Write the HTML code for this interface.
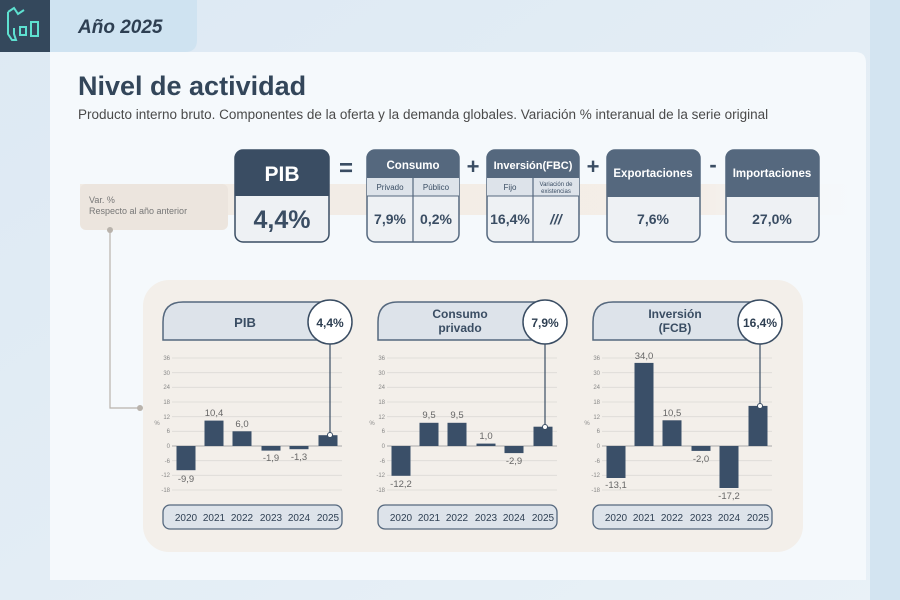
<!DOCTYPE html>
<html><head><meta charset="utf-8"><style>
html,body{margin:0;padding:0;width:900px;height:600px;overflow:hidden;background:#e4eef6;}
svg{display:block;font-family:"Liberation Sans",sans-serif;}
</style></head><body>
<svg width="900" height="600" viewBox="0 0 900 600" xmlns="http://www.w3.org/2000/svg">
<defs>
<linearGradient id="bg" x1="0" y1="0" x2="1" y2="1"><stop offset="0" stop-color="#dde9f3"/><stop offset="1" stop-color="#e9f1f7"/></linearGradient>
<linearGradient id="band" x1="0" x2="1"><stop offset="0" stop-color="#f1ebe4"/><stop offset="0.8" stop-color="#f4eee8"/><stop offset="1" stop-color="#f4f6f8" stop-opacity="0"/></linearGradient>
</defs>
<rect width="900" height="600" fill="url(#bg)"/>
<rect x="870" y="0" width="30" height="600" fill="#d3e4f1"/>
<!-- logo -->
<rect x="0" y="0" width="50" height="52" fill="#34485c"/>
<path d="M8 12 L14 8 L18 14 L24 10 M8 12 L8 34 L12 40 L16 40 L14 34 L14 28" stroke="#5ee0d0" stroke-width="2" fill="none"/>
<rect x="20" y="27" width="6" height="8" stroke="#5ee0d0" stroke-width="2" fill="none"/>
<rect x="31" y="22" width="7" height="14" stroke="#5ee0d0" stroke-width="2" fill="none"/>
<!-- tab -->
<path d="M50 0 H197 V40 Q197 52 185 52 H50 Z" fill="#cfe3f1"/>
<text x="78" y="33" font-size="19" font-style="italic" font-weight="bold" fill="#2e3f52">Año 2025</text>
<!-- card -->
<path d="M50 52 H855 Q866 52 866 63 V580 H50 Z" fill="#f5f9fc"/>
<text x="78" y="95" font-size="27" fill="#33465a" font-weight="bold">Nivel de actividad</text>
<text x="78" y="119" font-size="13.5" fill="#4a4a4a">Producto interno bruto. Componentes de la oferta y la demanda globales. Variación % interanual de la serie original</text>
<!-- band -->
<rect x="80" y="184" width="780" height="31" fill="url(#band)"/>
<rect x="80" y="184" width="148" height="46" rx="6" fill="#ece5de"/>
<text x="89" y="203" font-size="9" fill="#777">Var. %</text>
<text x="89" y="214" font-size="9" fill="#777">Respecto al año anterior</text>
<!-- connector left -->
<path d="M110 230 V408 H140" stroke="#b9b3ac" stroke-width="1.2" fill="none"/>
<circle cx="110" cy="230" r="3" fill="#b9b3ac"/>
<circle cx="140" cy="408" r="3" fill="#b9b3ac"/>
<!-- PIB box -->
<rect x="235" y="150" width="94" height="92" rx="8" fill="#eef1f4" stroke="#3a4d63" stroke-width="1.5"/>
<path d="M235 196 V158 Q235 150 243 150 H321 Q329 150 329 158 V196 Z" fill="#3a4d63"/>
<text x="282" y="181" font-size="21" font-weight="bold" fill="#fff" text-anchor="middle">PIB</text>
<text x="282" y="228" font-size="25" font-weight="bold" fill="#3a4d63" text-anchor="middle">4,4%</text>
<text x="346" y="176" font-size="24" font-weight="bold" fill="#3a4d63" text-anchor="middle">=</text>
<!-- Consumo -->
<rect x="367" y="150" width="92" height="92" rx="8" fill="#eef1f4" stroke="#55687e" stroke-width="1.5"/>
<path d="M367 178 V158 Q367 150 375 150 H451 Q459 150 459 158 V178 Z" fill="#55687e"/>
<rect x="367" y="178" width="92" height="18" fill="#dde3ea"/>
<line x1="413" y1="178" x2="413" y2="242" stroke="#55687e" stroke-width="1.2"/>
<line x1="367" y1="196" x2="459" y2="196" stroke="#55687e" stroke-width="1"/>
<text x="413" y="169" font-size="11.5" font-weight="bold" fill="#fff" text-anchor="middle">Consumo</text>
<text x="390" y="190" font-size="8" fill="#3a4d63" text-anchor="middle">Privado</text>
<text x="436" y="190" font-size="8" fill="#3a4d63" text-anchor="middle">Público</text>
<text x="390" y="224" font-size="14" font-weight="bold" fill="#3a4d63" text-anchor="middle">7,9%</text>
<text x="436" y="224" font-size="14" font-weight="bold" fill="#3a4d63" text-anchor="middle">0,2%</text>
<text x="473" y="174" font-size="22" font-weight="bold" fill="#3a4d63" text-anchor="middle">+</text>
<!-- Inversion -->
<rect x="487" y="150" width="92" height="92" rx="8" fill="#eef1f4" stroke="#55687e" stroke-width="1.5"/>
<path d="M487 178 V158 Q487 150 495 150 H571 Q579 150 579 158 V178 Z" fill="#55687e"/>
<rect x="487" y="178" width="92" height="18" fill="#dde3ea"/>
<line x1="533" y1="178" x2="533" y2="242" stroke="#55687e" stroke-width="1.2"/>
<line x1="487" y1="196" x2="579" y2="196" stroke="#55687e" stroke-width="1"/>
<text x="533" y="169" font-size="11" font-weight="bold" fill="#fff" text-anchor="middle">Inversión(FBC)</text>
<text x="510" y="190" font-size="8" fill="#3a4d63" text-anchor="middle">Fijo</text>
<text x="556" y="186" font-size="6" fill="#3a4d63" text-anchor="middle">Variación de</text>
<text x="556" y="193" font-size="6" fill="#3a4d63" text-anchor="middle">existencias</text>
<text x="510" y="224" font-size="14" font-weight="bold" fill="#3a4d63" text-anchor="middle">16,4%</text>
<text x="556" y="224" font-size="14" font-weight="bold" font-style="italic" fill="#3a4d63" text-anchor="middle">///</text>
<text x="593" y="174" font-size="22" font-weight="bold" fill="#3a4d63" text-anchor="middle">+</text>
<!-- Exportaciones -->
<rect x="607" y="150" width="93" height="92" rx="8" fill="#eef1f4" stroke="#55687e" stroke-width="1.5"/>
<path d="M607 197 V158 Q607 150 615 150 H692 Q700 150 700 158 V197 Z" fill="#55687e"/>
<text x="653" y="177" font-size="11.5" font-weight="bold" fill="#fff" text-anchor="middle">Exportaciones</text>
<text x="653" y="224" font-size="14" font-weight="bold" fill="#3a4d63" text-anchor="middle">7,6%</text>
<text x="713" y="172" font-size="22" font-weight="bold" fill="#3a4d63" text-anchor="middle">-</text>
<!-- Importaciones -->
<rect x="726" y="150" width="93" height="92" rx="8" fill="#eef1f4" stroke="#55687e" stroke-width="1.5"/>
<path d="M726 197 V158 Q726 150 734 150 H811 Q819 150 819 158 V197 Z" fill="#55687e"/>
<text x="772" y="177" font-size="11.5" font-weight="bold" fill="#fff" text-anchor="middle">Importaciones</text>
<text x="772" y="224" font-size="14" font-weight="bold" fill="#3a4d63" text-anchor="middle">27,0%</text>
<!-- chart panel -->
<rect x="143" y="280" width="660" height="272" rx="26" fill="#f3efea"/>

<!-- CHART TEMPLATE: chart1 -->
<g id="c1">
<path d="M163 340 V322 Q163 302 183 302 H330 V340 Z" fill="#dde3ea" stroke="#55687e" stroke-width="1.5"/>
<g stroke="#dcdad6" stroke-width="0.8">
<line x1="172" x2="342" y1="358" y2="358"/><line x1="172" x2="342" y1="372.7" y2="372.7"/><line x1="172" x2="342" y1="387.3" y2="387.3"/><line x1="172" x2="342" y1="402" y2="402"/><line x1="172" x2="342" y1="416.7" y2="416.7"/><line x1="172" x2="342" y1="431.3" y2="431.3"/><line x1="172" x2="342" y1="460.7" y2="460.7"/><line x1="172" x2="342" y1="475.3" y2="475.3"/><line x1="172" x2="342" y1="490" y2="490"/>
</g>
<line x1="172" x2="342" y1="446" y2="446" stroke="#aaa" stroke-width="1"/>
<g font-size="6" fill="#888" text-anchor="end">
<text x="170" y="360">36</text><text x="170" y="375">30</text><text x="170" y="389">24</text><text x="170" y="404">18</text><text x="170" y="419">12</text><text x="170" y="433">6</text><text x="170" y="448">0</text><text x="170" y="463">-6</text><text x="170" y="477">-12</text><text x="170" y="492">-18</text>
</g>
<text x="157" y="425" font-size="6" fill="#888" text-anchor="middle">%</text>
<rect x="163" y="505" width="179" height="24" rx="7" fill="#dde3ea" stroke="#55687e" stroke-width="1.3"/>
<g font-size="10" fill="#2e3f52" text-anchor="middle">
<text x="186" y="521">2020</text><text x="214" y="521">2021</text><text x="242" y="521">2022</text><text x="271" y="521">2023</text><text x="299" y="521">2024</text><text x="328" y="521">2025</text>
</g>
</g>
<use href="#c1" transform="translate(215,0)"/>
<use href="#c1" transform="translate(430,0)"/>

<!-- chart1 data -->
<g fill="#3a4f68">
<rect x="176.5" y="446" width="19" height="24.2"/><rect x="204.5" y="420.6" width="19" height="25.4"/><rect x="232.5" y="431.3" width="19" height="14.7"/><rect x="261.5" y="446" width="19" height="4.6"/><rect x="289.5" y="446" width="19" height="3.2"/><rect x="318.5" y="435.2" width="19" height="10.8"/>
</g>
<g font-size="9.5" fill="#666" text-anchor="middle">
<text x="186" y="482">-9,9</text><text x="214" y="416">10,4</text><text x="242" y="427">6,0</text><text x="271" y="461">-1,9</text><text x="299" y="460">-1,3</text>
</g>
<text x="245" y="327" font-size="13" font-weight="bold" fill="#3a4d63" text-anchor="middle">PIB</text>
<line x1="330" y1="344" x2="330" y2="435" stroke="#3a4d63" stroke-width="1.2"/>
<circle cx="330" cy="435" r="2.5" fill="#fff" stroke="#3a4d63"/>
<circle cx="330" cy="322" r="22" fill="#fff" stroke="#3a4d63" stroke-width="1.5"/>
<text x="330" y="327" font-size="12" font-weight="bold" fill="#2e3f52" text-anchor="middle">4,4%</text>

<!-- chart2 data -->
<g fill="#3a4f68">
<rect x="391.5" y="446" width="19" height="29.8"/><rect x="419.5" y="422.8" width="19" height="23.2"/><rect x="447.5" y="422.8" width="19" height="23.2"/><rect x="476.5" y="443.6" width="19" height="2.4"/><rect x="504.5" y="446" width="19" height="7.1"/><rect x="533.5" y="426.7" width="19" height="19.3"/>
</g>
<g font-size="9.5" fill="#666" text-anchor="middle">
<text x="401" y="487">-12,2</text><text x="429" y="418">9,5</text><text x="457" y="418">9,5</text><text x="486" y="439">1,0</text><text x="514" y="464">-2,9</text>
</g>
<text x="460" y="318" font-size="12" font-weight="bold" fill="#3a4d63" text-anchor="middle">Consumo</text>
<text x="460" y="332" font-size="12" font-weight="bold" fill="#3a4d63" text-anchor="middle">privado</text>
<line x1="545" y1="344" x2="545" y2="427" stroke="#3a4d63" stroke-width="1.2"/>
<circle cx="545" cy="427" r="2.5" fill="#fff" stroke="#3a4d63"/>
<circle cx="545" cy="322" r="22" fill="#fff" stroke="#3a4d63" stroke-width="1.5"/>
<text x="545" y="327" font-size="12" font-weight="bold" fill="#2e3f52" text-anchor="middle">7,9%</text>

<!-- chart3 data -->
<g fill="#3a4f68">
<rect x="606.5" y="446" width="19" height="32"/><rect x="634.5" y="362.9" width="19" height="83.1"/><rect x="662.5" y="420.3" width="19" height="25.7"/><rect x="691.5" y="446" width="19" height="4.9"/><rect x="719.5" y="446" width="19" height="42"/><rect x="748.5" y="405.9" width="19" height="40.1"/>
</g>
<g font-size="9.5" fill="#666" text-anchor="middle">
<text x="616" y="488">-13,1</text><text x="644" y="359">34,0</text><text x="672" y="416">10,5</text><text x="701" y="462">-2,0</text><text x="729" y="499">-17,2</text>
</g>
<text x="675" y="318" font-size="12" font-weight="bold" fill="#3a4d63" text-anchor="middle">Inversión</text>
<text x="675" y="332" font-size="12" font-weight="bold" fill="#3a4d63" text-anchor="middle">(FCB)</text>
<line x1="760" y1="344" x2="760" y2="406" stroke="#3a4d63" stroke-width="1.2"/>
<circle cx="760" cy="406" r="2.5" fill="#fff" stroke="#3a4d63"/>
<circle cx="760" cy="322" r="22" fill="#fff" stroke="#3a4d63" stroke-width="1.5"/>
<text x="760" y="327" font-size="12" font-weight="bold" fill="#2e3f52" text-anchor="middle">16,4%</text>
</svg>
</body></html>
